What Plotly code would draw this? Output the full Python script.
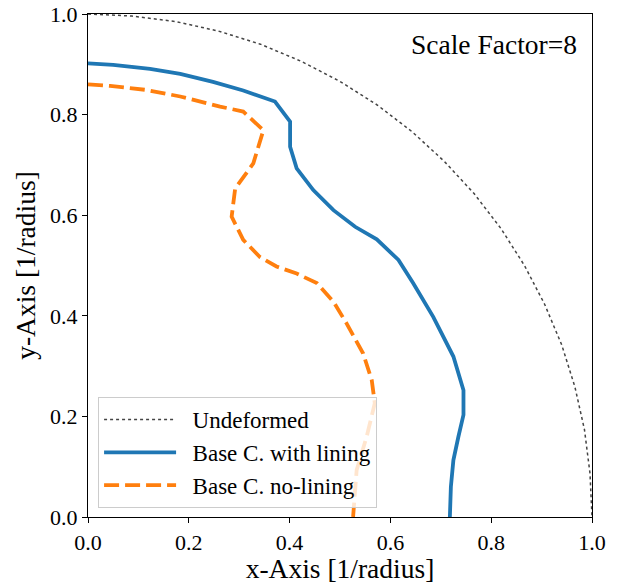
import plotly.graph_objects as go

# Undeformed reference contour (quarter unit circle)
undeformed_x = [0.000, 0.087, 0.174, 0.259, 0.342, 0.423, 0.500, 0.574, 0.643, 0.707,
                0.766, 0.819, 0.866, 0.906, 0.940, 0.966, 0.985, 0.996, 1.000]
undeformed_y = [1.000, 0.996, 0.985, 0.966, 0.940, 0.906, 0.866, 0.819, 0.766, 0.707,
                0.643, 0.574, 0.500, 0.423, 0.342, 0.259, 0.174, 0.087, 0.000]

# Base case with lining
lining_x = [0.000, 0.050, 0.123, 0.183, 0.248, 0.308, 0.371, 0.401, 0.401, 0.414,
            0.447, 0.487, 0.530, 0.573, 0.616, 0.645, 0.685, 0.725, 0.745, 0.745,
            0.735, 0.725, 0.720, 0.718]
lining_y = [0.902, 0.899, 0.891, 0.881, 0.865, 0.848, 0.826, 0.786, 0.736, 0.693,
            0.650, 0.610, 0.577, 0.552, 0.511, 0.465, 0.398, 0.319, 0.252, 0.203,
            0.160, 0.113, 0.060, 0.000]

# Base case without lining
nolining_x = [0.000, 0.044, 0.116, 0.183, 0.262, 0.308, 0.348, 0.328, 0.292, 0.285,
              0.308, 0.341, 0.374, 0.414, 0.454, 0.487, 0.513, 0.546, 0.563, 0.569,
              0.553, 0.533, 0.526]
nolining_y = [0.860, 0.857, 0.849, 0.836, 0.816, 0.806, 0.769, 0.703, 0.653, 0.597,
              0.551, 0.517, 0.498, 0.484, 0.465, 0.428, 0.385, 0.325, 0.272, 0.226,
              0.160, 0.093, 0.000]

series_names = ["Undeformed", "Base C. with lining", "Base C. no-lining"]

x_ticks = [0.0, 0.2, 0.4, 0.6, 0.8, 1.0]
y_ticks = [0.0, 0.2, 0.4, 0.6, 0.8, 1.0]

FONT = "Liberation Serif"
PAD = "\u00a0\u00a0"

fig = go.Figure()
fig.add_trace(go.Scatter(x=undeformed_x, y=undeformed_y, mode="lines", name=PAD + series_names[0],
                         line=dict(color="#444444", width=1.5, dash="dot")))
fig.add_trace(go.Scatter(x=lining_x, y=lining_y, mode="lines", name=PAD + series_names[1],
                         line=dict(color="#1f77b4", width=3.8)))
fig.add_trace(go.Scatter(x=nolining_x, y=nolining_y, mode="lines", name=PAD + series_names[2],
                         line=dict(color="#ff7f0e", width=3.8, dash="15px,6px")))

axis_common = dict(
    showgrid=False, zeroline=False, showline=True, linecolor="black", linewidth=1.2,
    mirror=True, ticks="outside", ticklen=5, tickwidth=1.2, tickcolor="black",
    tickfont=dict(family=FONT, size=22, color="black"), tickformat=".1f",
    automargin=False,
)

fig.update_xaxes(range=[0, 1], tickvals=x_ticks,
                 title=dict(text="x-Axis [1/radius]", font=dict(family=FONT, size=27.5, color="black"),
                            standoff=6),
                 **axis_common)
fig.update_yaxes(range=[0, 1], tickvals=y_ticks,
                 title=dict(text="y-Axis [1/radius]", font=dict(family=FONT, size=27.5, color="black"),
                            standoff=6),
                 **axis_common)

fig.add_annotation(x=0.975, y=0.975, xref="paper", yref="paper", xanchor="right", yanchor="top",
                   text="Scale Factor=8", showarrow=False,
                   font=dict(family=FONT, size=27.5, color="black"))

fig.update_layout(
    width=617, height=584,
    margin=dict(l=88, r=25, t=14, b=67, autoexpand=False),
    paper_bgcolor="white", plot_bgcolor="white",
    font=dict(family=FONT, color="black"),
    showlegend=True,
    legend=dict(x=0.02, y=0.018, xanchor="left", yanchor="bottom",
                bgcolor="rgba(255,255,255,0.8)", bordercolor="#cccccc", borderwidth=1,
                font=dict(family=FONT, size=23, color="black"), itemwidth=72,
                tracegroupgap=0),
)

fig.write_html("out.html")
